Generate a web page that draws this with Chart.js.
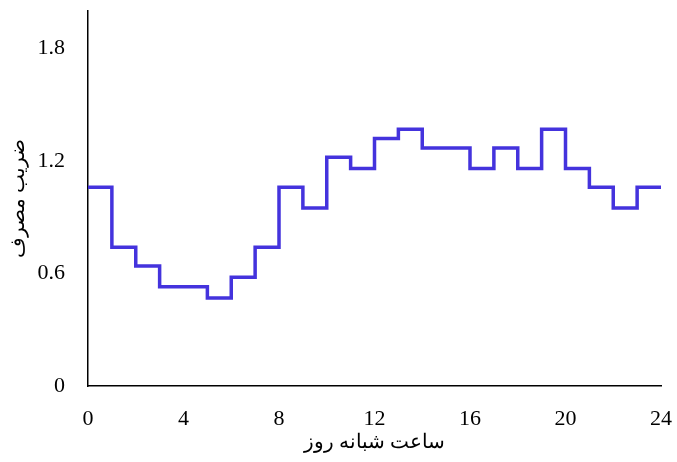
<!DOCTYPE html>
<html>
<head>
<meta charset="utf-8">
<script src="https://cdn.jsdelivr.net/npm/chart.js@4/dist/chart.umd.min.js"></script>
<style>
  html, body { margin: 0; padding: 0; background: #fff; }
  #wrap { width: 677px; height: 462px; }
</style>
</head>
<body>
<div id="wrap"><canvas id="chart"></canvas></div>
<script>
// Hourly usage factor (value holds from hour h to h+1)
var hours = [0, 1, 2, 3, 4, 5, 6, 7, 8, 9, 10, 11, 12, 13, 14, 15, 16, 17, 18, 19, 20, 21, 22, 23, 24];
var factors = [1.06, 0.74, 0.64, 0.53, 0.53, 0.47, 0.58, 0.74, 1.06, 0.95, 1.22, 1.16,
               1.32, 1.37, 1.27, 1.27, 1.16, 1.27, 1.16, 1.37, 1.16, 1.06, 0.95, 1.06, 1.06];
var xTicks = [0, 4, 8, 12, 16, 20, 24];
var yTicks = [0, 0.6, 1.2, 1.8];

var xTitle = 'ساعت شبانه روز';
var yTitle = 'ضریب مصرف';

var serif = '"Liberation Serif", "Times New Roman", serif';

var points = hours.map(function(h, i) {
  return { x: h, y: factors[i] };
});

var ctx = document.getElementById('chart').getContext('2d');
new Chart(ctx, {
  type: 'line',
  data: {
    datasets: [{
      data: points,
      stepped: 'before',
      borderColor: '#4433dd',
      borderWidth: 3.5,
      pointRadius: 0,
      fill: false
    }]
  },
  options: {
    responsive: true,
    maintainAspectRatio: false,
    animation: false,
    layout: {
      padding: { left: 0, right: 16, top: 11, bottom: 0 }
    },
    plugins: {
      legend: { display: false },
      tooltip: { enabled: false }
    },
    scales: {
      x: {
        type: 'linear',
        min: 0,
        max: 24,
        grid: { display: false },
        border: { display: true, color: '#000', width: 1.5 },
        afterBuildTicks: function(scale) {
          scale.ticks = xTicks.map(function(v) { return { value: v }; });
        },
        afterFit: function(scale) {
          // keep the plot edges where the reference has them
          scale.height = 76;
          scale.paddingLeft = 0;
          scale.paddingRight = 0;
        },
        ticks: {
          color: '#000',
          padding: 12,
          maxRotation: 0,
          font: { family: serif, size: 22 }
        },
        title: {
          display: true,
          text: xTitle,
          color: '#000',
          padding: { top: 0, bottom: 7 },
          font: { family: serif, size: 20 }
        }
      },
      y: {
        min: 0,
        max: 2,
        grid: { display: false },
        border: { display: true, color: '#000', width: 1.5 },
        afterBuildTicks: function(scale) {
          scale.ticks = yTicks.map(function(v) { return { value: v }; });
        },
        afterFit: function(scale) {
          scale.width = 88;
          scale.paddingTop = 0;
          scale.paddingBottom = 0;
        },
        ticks: {
          color: '#000',
          padding: 15,
          font: { family: serif, size: 22 }
        },
        title: {
          display: true,
          text: yTitle,
          color: '#000',
          padding: { top: 7, bottom: 0 },
          font: { family: serif, size: 20 }
        }
      }
    }
  }
});
</script>
</body>
</html>
